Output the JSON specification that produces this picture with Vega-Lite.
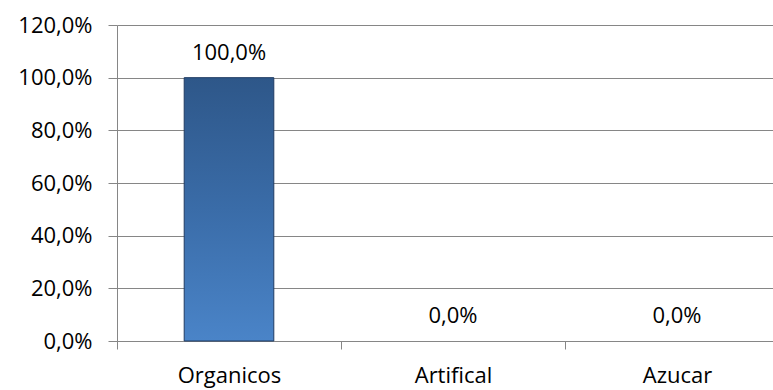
{
  "$schema": "https://vega.github.io/schema/vega-lite/v6.json",
  "width": 656,
  "height": 316,
  "autosize": {"type": "none"},
  "padding": {"left": 117, "top": 25, "right": 0, "bottom": 49},
  "config": {
    "locale": {
      "number": {"decimal": ",", "thousands": ".", "grouping": [3], "currency": ["", " €"]}
    },
    "view": {"stroke": null},
    "font": "Open Sans"
  },
  "data": {
    "values": [
      {"categoria": "Organicos", "porcentaje": 1.0},
      {"categoria": "Artifical", "porcentaje": 0.0},
      {"categoria": "Azucar", "porcentaje": 0.0}
    ]
  },
  "encoding": {
    "x": {
      "field": "categoria",
      "type": "nominal",
      "sort": null,
      "scale": {"range": [0, 672], "paddingInner": 0, "paddingOuter": 0},
      "axis": {
        "title": null,
        "labelAngle": 0,
        "tickBand": "extent",
        "grid": false,
        "domainColor": "#868686",
        "tickColor": "#868686",
        "tickSize": 8,
        "labelPadding": 16,
        "labelFontSize": 22,
        "labelColor": "#000000",
        "labelFont": "Open Sans"
      }
    },
    "y": {
      "field": "porcentaje",
      "type": "quantitative",
      "scale": {"domain": [0, 1.2], "nice": false},
      "axis": {
        "title": null,
        "format": ".1%",
        "values": [0, 0.2, 0.4, 0.6, 0.8, 1.0, 1.2],
        "grid": true,
        "gridColor": "#868686",
        "domainColor": "#868686",
        "tickColor": "#868686",
        "tickSize": 9,
        "labelPadding": 16,
        "labelFontSize": 22,
        "labelColor": "#000000",
        "labelFont": "Open Sans"
      }
    }
  },
  "layer": [
    {
      "mark": {
        "type": "bar",
        "width": {"band": 0.4},
        "stroke": "#1F3B63",
        "strokeWidth": 1,
        "fill": {
          "gradient": "linear",
          "x1": 0, "y1": 0, "x2": 0, "y2": 1,
          "stops": [
            {"offset": 0, "color": "#2E5789"},
            {"offset": 0.5, "color": "#3A6CA8"},
            {"offset": 1, "color": "#4A84C8"}
          ]
        }
      },
      "encoding": {
        "strokeOpacity": {
          "condition": {"test": "datum.porcentaje > 0", "value": 1},
          "value": 0
        }
      }
    },
    {
      "mark": {"type": "text", "dy": -25, "fontSize": 22, "color": "#000000", "font": "Open Sans"},
      "encoding": {
        "text": {"field": "porcentaje", "type": "quantitative", "format": ".1%"}
      }
    }
  ]
}
